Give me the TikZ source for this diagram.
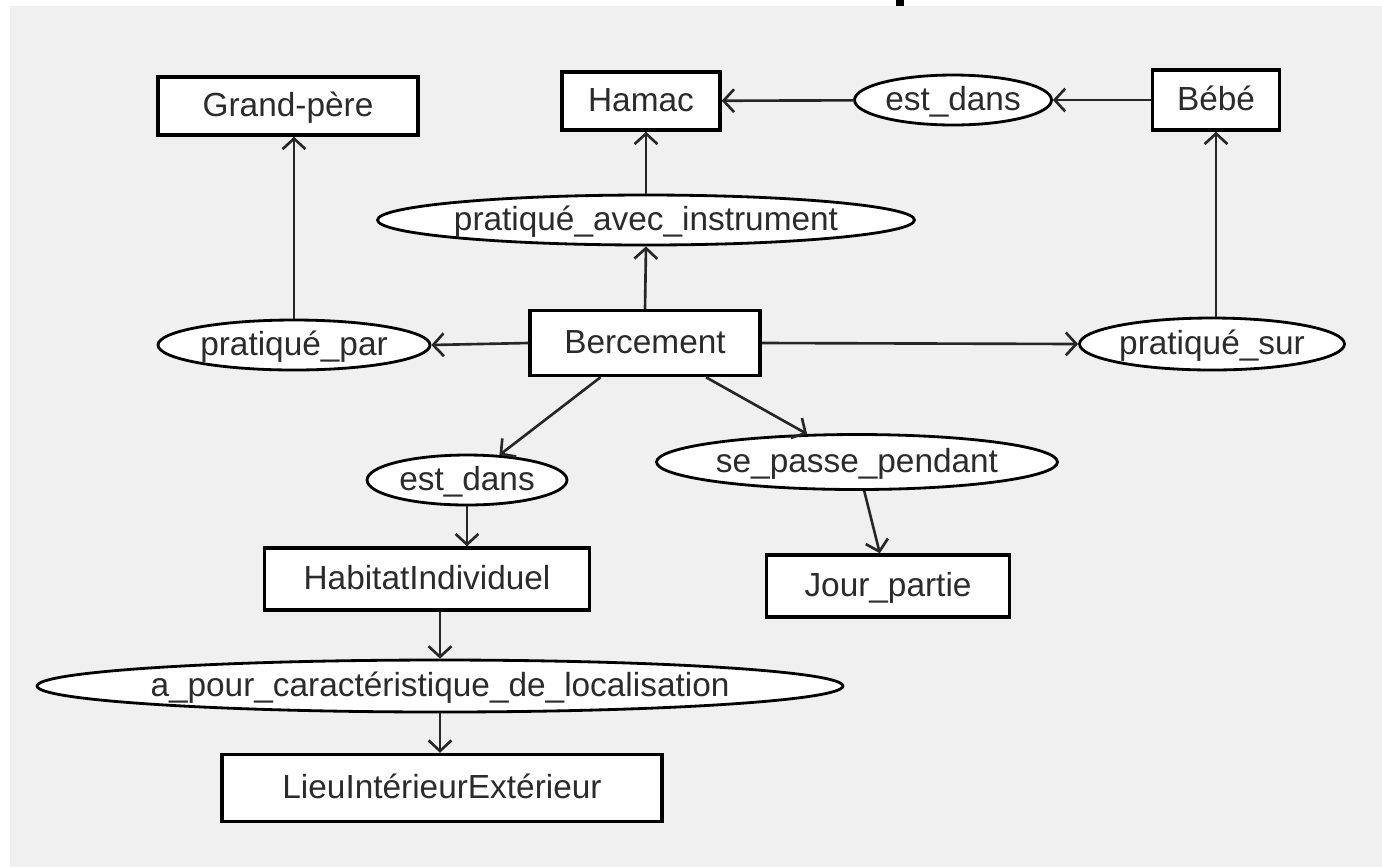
\documentclass[tikz,border=0pt]{standalone}
\usepackage{fontspec}
\setmainfont{Liberation Sans}
\usetikzlibrary{shapes.geometric,arrows.meta}
\definecolor{bggray}{HTML}{F0F0F0}
\definecolor{inkgray}{HTML}{2B2B2B}
\newcommand{\rtxt}[1]{\makebox[0pt]{#1}}

\begin{document}
\begin{tikzpicture}[x=0.02cm,y=-0.02cm]
    % `concept' is used for the boxes, `relation' for the ellipses.
    % `link' is used for every arrow between them.
    \tikzstyle{concept} = [draw=black,line width=2pt,fill=white,text=inkgray,inner sep=0pt,text height=12pt,text depth=0pt,font=\fontsize{19}{22}\selectfont]
    \tikzstyle{relation} = [ellipse,draw=black,line width=1.6pt,fill=white,text=inkgray,inner sep=0pt,text height=12pt,text depth=0pt,font=\fontsize{19}{22}\selectfont]
    \tikzstyle{link} = [draw=black!85,line width=1.5pt,-{Straight Barb[length=6pt,width=13pt,line width=1.5pt]}]
    %
    \useasboundingbox (0,0) rectangle (1382,867);
    \fill[bggray] (10,6) rectangle (1382,867);
    \fill[black] (896,0) rectangle (904,6);
    %
    \node[concept,minimum width=5.2cm,minimum height=1.16cm] (grandpere) at (288,106) {Grand-père};
    \node[concept,minimum width=3.16cm,minimum height=1.16cm] (hamac) at (641,101) {Hamac};
    \node[relation,minimum width=3.94cm,minimum height=1cm] (estdans1) at (953,100) {\rtxt{est\_dans}};
    \node[concept,minimum width=2.54cm,minimum height=1.2cm] (bebe) at (1216,100) {Bébé};

    \node[relation,minimum width=10.74cm,minimum height=1cm] (instr) at (646,220) {\rtxt{pratiqué\_avec\_instrument}};

    \node[relation,minimum width=5.44cm,minimum height=1cm] (par) at (294,345) {\rtxt{pratiqué\_par}};
    \node[concept,minimum width=4.6cm,minimum height=1.3cm] (berc) at (645,343) {Bercement};
    \node[relation,minimum width=5.3cm,minimum height=1.04cm] (sur) at (1212,344) {\rtxt{pratiqué\_sur}};

    \node[relation,minimum width=4cm,minimum height=1cm] (estdans2) at (467,480) {\rtxt{est\_dans}};
    \node[relation,minimum width=8.02cm,minimum height=1.1cm] (pendant) at (857,462) {\rtxt{se\_passe\_pendant}};

    \node[concept,minimum width=6.5cm,minimum height=1.24cm] (habitat) at (427,579) {HabitatIndividuel};
    \node[concept,minimum width=4.86cm,minimum height=1.24cm] (jour) at (888,586) {Jour\_partie};

    \node[relation,minimum width=16.12cm,minimum height=1.04cm] (carac) at (440,686) {\rtxt{a\_pour\_caractéristique\_de\_localisation}};
    \node[concept,minimum width=8.8cm,minimum height=1.34cm] (lieu) at (442,788) {LieuIntérieurExtérieur};
    %
    % Draw arrows.
    \draw[link] (bebe) -- (estdans1);
    \draw[link] (estdans1) -- (hamac);
    \draw[link] (instr.north) -- (instr.north |- hamac.south);
    \draw[link] (berc.north) -- (instr.south);
    \draw[link] (berc.west) -- (par.east);
    \draw[link] (par.north) -- (par.north |- grandpere.south);
    \draw[link] (berc.east) -- (sur.west);
    \draw[link] (bebe.south |- sur.north) -- (bebe.south);
    \draw[link] (berc) -- (estdans2);
    \draw[link] (berc) -- (pendant);
    \draw[link] (estdans2.south) -- (estdans2.south |- habitat.north);
    \draw[link] (pendant) -- (jour);
    \draw[link] (carac.north |- habitat.south) -- (carac.north);
    \draw[link] (carac.south) -- (carac.south |- lieu.north);
\end{tikzpicture}
\end{document}
